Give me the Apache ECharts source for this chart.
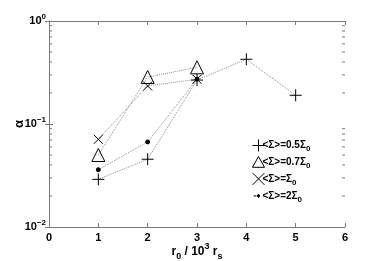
<!DOCTYPE html>
<html><head><meta charset="utf-8">
<script src="https://cdn.jsdelivr.net/npm/echarts@6/dist/echarts.min.js"></script>
<style>html,body{margin:0;padding:0;background:#fff}#c{width:382px;height:261px}</style>
</head><body><div id="c"></div>
<script>
// data
const xHalf = [1, 2, 3, 4, 5];
const yHalf = [0.029, 0.0455, 0.267, 0.425, 0.19];
const xP7 = [1, 2, 3];
const yP7 = [0.050, 0.286, 0.355];
const xOne = [1, 2, 3];
const yOne = [0.071, 0.234, 0.272];
const xTwo = [1, 2, 3];
const yTwo = [0.036, 0.067, 0.272];
const seriesNames = ['<Σ>=0.5Σ0', '<Σ>=0.7Σ0', '<Σ>=Σ0', '<Σ>=2Σ0'];
const legendMain = ['<Σ>=0.5Σ', '<Σ>=0.7Σ', '<Σ>=Σ', '<Σ>=2Σ'];
const legendSub = ['0', '0', '0', '0'];
const yExpLabels = {'1': '0', '0.1': '−1', '0.01': '−2'};
const minorTickValues = [0.02,0.03,0.04,0.05,0.06,0.07,0.08,0.09,0.2,0.3,0.4,0.5,0.6,0.7,0.8,0.9];

const FONT = 'Liberation Sans';
const AX = '#7a7a7a';
const LINE = '#8c8c8c';
const plus = 'path://M0,5L10,5M5,0L5,10';
const cross = 'path://M0,0L10,10M10,0L0,10';
const legendIcons = [
  'path://M1,5L11,5M6,0L6,10',
  'path://M0,10L5,1L10,10Z',
  'path://M1,1L9,9M9,1L1,9',
  'path://M0,0M12,12M1,6L4,6M5,5.2L5.8,4.6L6.2,4.6L7,5.2L7,6.8L6.2,7.4L5.8,7.4L5,6.8Z'
];

function pts(xs, ys){ return xs.map((x,i)=>[x, ys[i]]); }

function lineSeries(name, data, symbol, size, isStroke){
  return {
    name, type: 'line', data, symbol, symbolSize: size,
    lineStyle: {color: LINE, width: 1, type: 'dotted'},
    itemStyle: isStroke ? {color: 'rgba(0,0,0,0)', borderColor: '#000', borderWidth: 1}
                        : {color: '#000', borderColor: '#000', borderWidth: 1},
    z: 3, animation: false
  };
}

const chart = echarts.init(document.getElementById('c'), null, {renderer: 'canvas'});
chart.setOption({
  animation: false,
  grid: {left: 49, right: 37, top: 21, bottom: 34, outerBoundsMode: 'none', containLabel: false},
  textStyle: {fontFamily: FONT},
  xAxis: [{
    type: 'value', min: 0, max: 6, interval: 1, position: 'bottom',
    axisLine: {lineStyle: {color: AX}}, splitLine: {show: false},
    axisTick: {inside: true, length: 4, lineStyle: {color: AX}},
    axisLabel: {color: '#000', fontWeight: 'bold', fontSize: 11, fontFamily: FONT, margin: 5},
    name: '{m|r}{sub|0}{m| / 10}{sup|3}{m| r}{sub|s}',
    nameLocation: 'middle', nameGap: 15, nameMoveOverlap: false,
    nameTextStyle: {rich: {
      m: {fontSize: 12, fontWeight: 'bold', color: '#000', fontFamily: FONT},
      sub: {fontSize: 9, fontWeight: 'bold', color: '#000', fontFamily: FONT, padding: [10,0,0,0]},
      sup: {fontSize: 9, fontWeight: 'bold', color: '#000', fontFamily: FONT, padding: [0,0,10,0]}
    }}
  }, {
    type: 'value', min: 0, max: 6, interval: 1, position: 'top',
    axisLine: {lineStyle: {color: AX}}, splitLine: {show: false},
    axisTick: {inside: true, length: 4, lineStyle: {color: AX}},
    axisLabel: {show: false}
  }],
  yAxis: [{
    type: 'log', min: 0.01, max: 1, logBase: 10, position: 'left',
    axisLine: {show: true, lineStyle: {color: AX}}, splitLine: {show: false},
    axisTick: {inside: true, length: 4, lineStyle: {color: AX}},
    axisLabel: {
      margin: 3,
      formatter: v => '{b|10}{sup|' + (yExpLabels[String(+(+v).toPrecision(3))] || '') + '}',
      rich: {
        b: {fontSize: 11, fontWeight: 'bold', color: '#000', fontFamily: FONT},
        sup: {fontSize: 8, fontWeight: 'bold', color: '#000', fontFamily: FONT, padding: [0,0,9,0]}
      }
    },
    name: 'α', nameLocation: 'middle', nameGap: 23, nameRotate: 90, nameMoveOverlap: false,
    nameTextStyle: {fontSize: 13, fontWeight: 'bold', color: '#000', fontFamily: FONT}
  }, {
    type: 'log', min: 0.01, max: 1, logBase: 10, position: 'right',
    axisLine: {show: true, lineStyle: {color: AX}}, splitLine: {show: false},
    axisTick: {inside: true, length: 4, lineStyle: {color: AX}},
    axisLabel: {show: false}
  }],
  legend: {
    orient: 'vertical', left: 247, top: 134, itemGap: 3,
    itemWidth: 12, itemHeight: 12,
    itemStyle: {borderWidth: 1},
    data: seriesNames.map((n, i) => ({name: n, icon: legendIcons[i],
      itemStyle: i === 3 ? {color: '#000', borderColor: '#000', borderWidth: 1} : {color: 'rgba(0,0,0,0)', borderColor: '#000', borderWidth: 1}})),
    formatter: name => {
      const i = seriesNames.indexOf(name);
      return '{t|' + legendMain[i] + '}{s|' + legendSub[i] + '}';
    },
    textStyle: {
      padding: [0,0,0,-7],
      rich: {
        t: {fontSize: 10, fontWeight: 'bold', color: '#000', fontFamily: FONT},
        s: {fontSize: 8, fontWeight: 'bold', color: '#000', fontFamily: FONT, padding: [7,0,0,0]}
      }
    }
  },
  series: [
    lineSeries(seriesNames[0], pts(xHalf, yHalf), plus, 12, true),
    lineSeries(seriesNames[1], pts(xP7, yP7), 'triangle', 13, true),
    lineSeries(seriesNames[2], pts(xOne, yOne), cross, 9, true),
    lineSeries(seriesNames[3], pts(xTwo, yTwo), 'circle', 4, false),
    {
      type: 'custom', silent: true, z: 1,
      data: minorTickValues.map(v => [0, v]),
      renderItem: (params, api) => {
        const v = api.value(1);
        const l = api.coord([0, v]);
        const r = api.coord([6, v]);
        return {type: 'group', children: [
          {type: 'line', shape: {x1: l[0], y1: l[1], x2: l[0] + 3, y2: l[1]}, style: {stroke: AX, lineWidth: 1}},
          {type: 'line', shape: {x1: r[0] - 3, y1: r[1], x2: r[0], y2: r[1]}, style: {stroke: AX, lineWidth: 1}}
        ]};
      }
    }
  ]
});
</script></body></html>
